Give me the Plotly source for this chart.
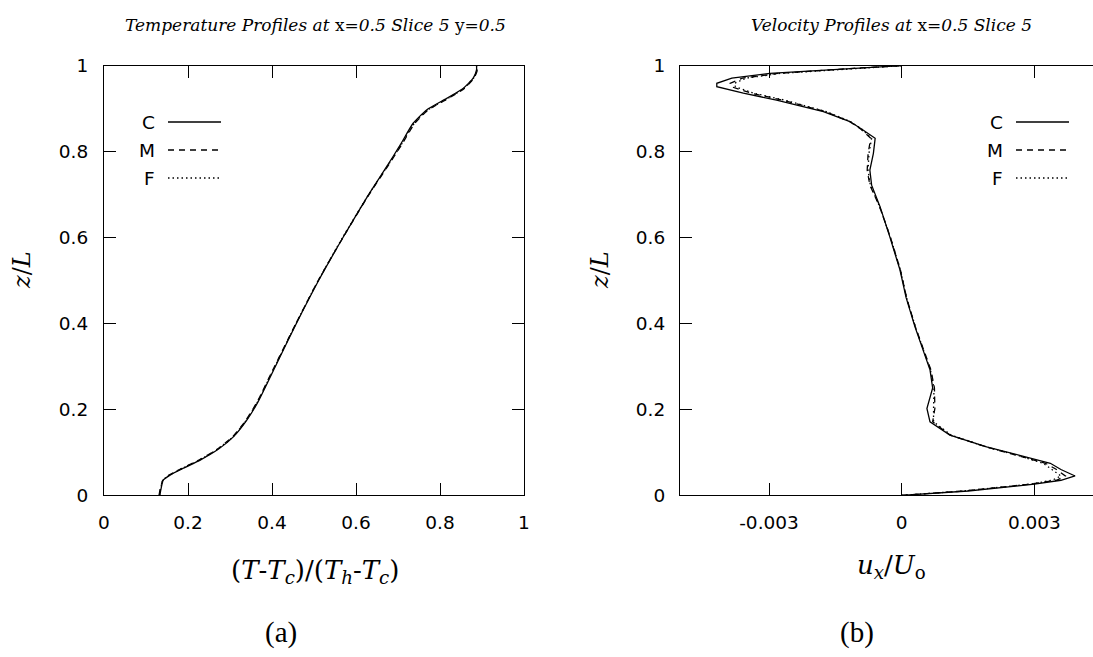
import plotly.graph_objects as go

W, H = 1093, 657

# ---------------- data ----------------
series_names = ["C", "M", "F"]

# (a) temperature profiles
z_T = [0.0, 0.016, 0.035, 0.047, 0.063, 0.082, 0.107, 0.136, 0.175, 0.218, 0.3, 0.4,
       0.5, 0.6, 0.7, 0.765, 0.815, 0.866, 0.897, 0.924, 0.947, 0.971, 0.99, 1.0]
T_C = [0.133, 0.136, 0.141, 0.157, 0.189, 0.229, 0.272, 0.308, 0.340, 0.367, 0.408, 0.458,
       0.511, 0.569, 0.630, 0.673, 0.705, 0.736, 0.768, 0.816, 0.855, 0.879, 0.887, 0.887]
T_M = [0.131, 0.134, 0.140, 0.155, 0.186, 0.226, 0.269, 0.306, 0.338, 0.365, 0.406, 0.457,
       0.510, 0.569, 0.631, 0.675, 0.708, 0.740, 0.772, 0.820, 0.858, 0.881, 0.889, 0.889]
T_F = [0.132, 0.135, 0.140, 0.156, 0.187, 0.227, 0.270, 0.307, 0.339, 0.366, 0.407, 0.457,
       0.510, 0.568, 0.630, 0.674, 0.707, 0.739, 0.771, 0.819, 0.857, 0.880, 0.888, 0.888]

# (b) velocity profiles
z_U = [0.0, 0.01, 0.026, 0.035, 0.045, 0.06, 0.0745, 0.093, 0.113, 0.140, 0.171, 0.202,
       0.25, 0.292, 0.338, 0.392, 0.46, 0.525, 0.602, 0.672, 0.722, 0.757, 0.796, 0.831,
       0.852, 0.870, 0.893, 0.920, 0.936, 0.951, 0.959, 0.971, 0.982, 0.994, 1.0]
U_C = [0.0, 0.0015, 0.0030, 0.0036, 0.00392, 0.0036, 0.00336, 0.00267, 0.00192, 0.00109,
       0.00064, 0.00057, 0.0007, 0.00064, 0.00049, 0.0003, 0.0001, -0.00004, -0.00027,
       -0.00049, -0.00068, -0.00072, -0.00064, -0.0006, -0.0009, -0.00117, -0.00177,
       -0.00283, -0.00358, -0.00418, -0.00418, -0.00384, -0.00298, -0.00117, 0.0]
U_M = [0.0, 0.0014, 0.0029, 0.0035, 0.0037, 0.0035, 0.00325, 0.0026, 0.0019, 0.0011,
       0.0007, 0.00075, 0.00074, 0.00066, 0.0005, 0.00031, 0.00011, -0.00003, -0.00026,
       -0.0005, -0.00072, -0.00078, -0.00076, -0.0007, -0.00092, -0.00118, -0.00172,
       -0.0027, -0.0034, -0.00385, -0.00388, -0.0036, -0.0028, -0.0011, 0.0]
U_F = [0.0, 0.0014, 0.0029, 0.0034, 0.0036, 0.0034, 0.0032, 0.00262, 0.0019, 0.00112,
       0.00072, 0.00072, 0.00073, 0.00065, 0.0005, 0.00031, 0.00011, -0.00003, -0.00026,
       -0.0005, -0.00071, -0.00076, -0.00074, -0.00068, -0.0009, -0.00116, -0.0017,
       -0.00265, -0.00335, -0.00376, -0.00378, -0.00352, -0.00275, -0.00108, 0.0]

xa_ticks = [0, 0.2, 0.4, 0.6, 0.8, 1]
xa_labels = ["0", "0.2", "0.4", "0.6", "0.8", "1"]
xb_ticks = [-0.003, 0, 0.003]
xb_labels = ["-0.003", "0", "0.003"]
y_ticks = [0, 0.2, 0.4, 0.6, 0.8, 1]
y_labels = ["0", "0.2", "0.4", "0.6", "0.8", "1"]

# ---------------- styling ----------------
dashes = {"C": "solid", "M": "6px,5px", "F": "1.5px,3px"}
LW = 1.3
TICKFONT = dict(family="DejaVu Sans", size=18.5, color="black")
SERIF = "DejaVu Serif"
TIMES = "Liberation Serif"


def px(x):
    return x / W


def py(y):
    return 1 - y / H


fig = go.Figure()

for name, xs in zip(series_names, [T_C, T_M, T_F]):
    fig.add_trace(go.Scatter(x=xs, y=z_T, mode="lines", name=name, xaxis="x", yaxis="y",
                             line=dict(color="black", width=LW, dash=dashes[name],
                                       shape="spline", smoothing=0.5),
                             showlegend=False))
for name, xs in zip(series_names, [U_C, U_M, U_F]):
    fig.add_trace(go.Scatter(x=xs, y=z_U, mode="lines", name=name, xaxis="x2", yaxis="y2",
                             line=dict(color="black", width=LW, dash=dashes[name]),
                             showlegend=False))

# plot area geometry (pixels)
A_L, A_R = 104, 524
B_L, B_R = 680, 1093
P_T, P_B = 65.7, 495.3
scale_b = 132.7 / 0.003
xb_min = -(901.7 - B_L) / scale_b
xb_max = (B_R - 901.7) / scale_b

axis_common = dict(showgrid=False, zeroline=False, showline=True, linecolor="black",
                   linewidth=1.2, ticks="inside", ticklen=12, tickwidth=1, tickcolor="black",
                   tickfont=TICKFONT)

fig.update_layout(
    autosize=True, margin=dict(l=0, r=0, t=0, b=0, autoexpand=False),
    paper_bgcolor="white", plot_bgcolor="white", showlegend=False,
    xaxis=dict(domain=[px(A_L), px(A_R)], range=[0, 1], anchor="y", mirror="ticks",
               tickvals=xa_ticks, ticktext=xa_labels, ticklabelstandoff=10, **axis_common),
    yaxis=dict(domain=[py(P_B), py(P_T)], range=[0, 1], anchor="x", mirror="ticks",
               tickvals=y_ticks, ticktext=y_labels, ticklabelstandoff=11, **axis_common),
    xaxis2=dict(domain=[px(B_L), px(B_R)], range=[xb_min, xb_max], anchor="y2", mirror="ticks",
                tickvals=xb_ticks, ticktext=xb_labels, ticklabelstandoff=10, **axis_common),
    yaxis2=dict(domain=[py(P_B), py(P_T)], range=[0, 1], anchor="x2", mirror=False,
                tickvals=y_ticks, ticktext=y_labels, ticklabelstandoff=10, **axis_common),
    yaxis3=dict(overlaying="y2", side="right", anchor="x2", range=[0, 1], showgrid=False,
                zeroline=False, showline=False, ticks="inside", ticklen=5, tickwidth=1,
                tickcolor="black", tickvals=y_ticks, showticklabels=False),
)

anns = []


def text(x, y, s, size, family=SERIF, angle=0, xanchor="center"):
    anns.append(dict(x=px(x), y=py(y), xref="paper", yref="paper", text=s, showarrow=False,
                     font=dict(family=family, size=size, color="black"), textangle=angle,
                     xanchor=xanchor, yanchor="middle"))


# titles
text(315, 25, "<i>Temperature Profiles at </i>x=<i>0.5 Slice 5 </i>y=<i>0.5</i>", 17)
text(891, 25, "<i>Velocity Profiles at </i>x=<i>0.5 Slice 5</i>", 17)
# axis titles
text(315, 571, "(<i>T</i>-<i>T</i><sub><i>c</i></sub>)/(<i>T</i><sub><i>h</i></sub>-<i>T</i><sub><i>c</i></sub>)", 26)
text(891, 566, "<i>u</i><sub><i>x</i></sub>/<i>U</i><sub>o</sub>", 26)
text(22, 270, "<i>z</i>/<i>L</i>", 24, angle=-90)
text(600, 270, "<i>z</i>/<i>L</i>", 24, angle=-90)
# panel labels
text(281, 632, "(a)", 29, family=TIMES)
text(857, 632, "(b)", 29, family=TIMES)

# legends (gnuplot style: label, then line sample)
shapes = []
leg_y = [122, 150, 178]
for (lab_end, l0, l1) in [(157, 168, 221), (1005, 1016, 1069)]:
    for name, yy in zip(series_names, leg_y):
        text(lab_end, yy, name, 18.5, family="DejaVu Sans", xanchor="right")
        shapes.append(dict(type="line", xref="paper", yref="paper", x0=px(l0), x1=px(l1),
                           y0=py(yy), y1=py(yy),
                           line=dict(color="black", width=LW, dash=dashes[name])))

fig.update_layout(annotations=anns, shapes=shapes)

# pin the plot div to the window's top-left corner (no page margin)
fig.write_html("out.html",
               default_width="%dpx" % W,
               default_height="%dpx; position:fixed; top:0px; left:0px" % H,
               post_script="document.body.style.margin='0';")
